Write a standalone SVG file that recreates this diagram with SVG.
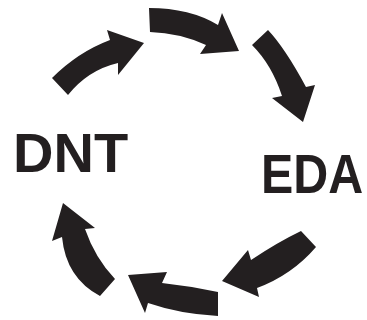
<svg xmlns="http://www.w3.org/2000/svg" width="367" height="320" viewBox="0 0 367 320">
  <style>
    .arrow { fill: #231f20; stroke: none; }
    .label { font-family: "Liberation Sans", Arial, sans-serif; font-weight: bold; font-size: 56px; fill: #231f20; }
  </style>
  <rect width="367" height="320" fill="#ffffff"/>
  <g id="connectors">
    <path class="arrow" d="M 52,78 Q 78,52 110,40 L 107,30 L 144,43 L 118,75 L 118,63 Q 88,70 68,95 Z"/>
    <path class="arrow" d="M 149,8 Q 190,8 218,25 L 222,13 L 239,51 L 200,54 L 206,45 Q 180,33 150,32 Z"/>
    <path class="arrow" d="M 268,30 Q 285,48 306,87 L 315,85 L 303,122 L 272,98 L 282,96 Q 272,65 252,45 Z"/>
    <path class="arrow" d="M 301,231 Q 278,242 251,260 L 248,250 L 222,281 L 259,297 L 257,288 Q 292,275 316,247 Z"/>
    <path class="arrow" d="M 218,292 Q 190,286 162,283 L 167,272 L 128,275 L 145,313 L 148,303 Q 180,314 218,316 Z"/>
    <path class="arrow" d="M 63,203 L 95,228 L 85,229 Q 95,258 115,279 L 100,296 Q 66,278 62,237 L 52,241 Z"/>
  </g>
  <g id="node-dnt">
    <text class="label" x="13" y="172">DNT</text>
  </g>
  <g id="node-eda">
    <text class="label" transform="translate(261,193) scale(0.865,1)" x="0" y="0">EDA</text>
  </g>
</svg>
